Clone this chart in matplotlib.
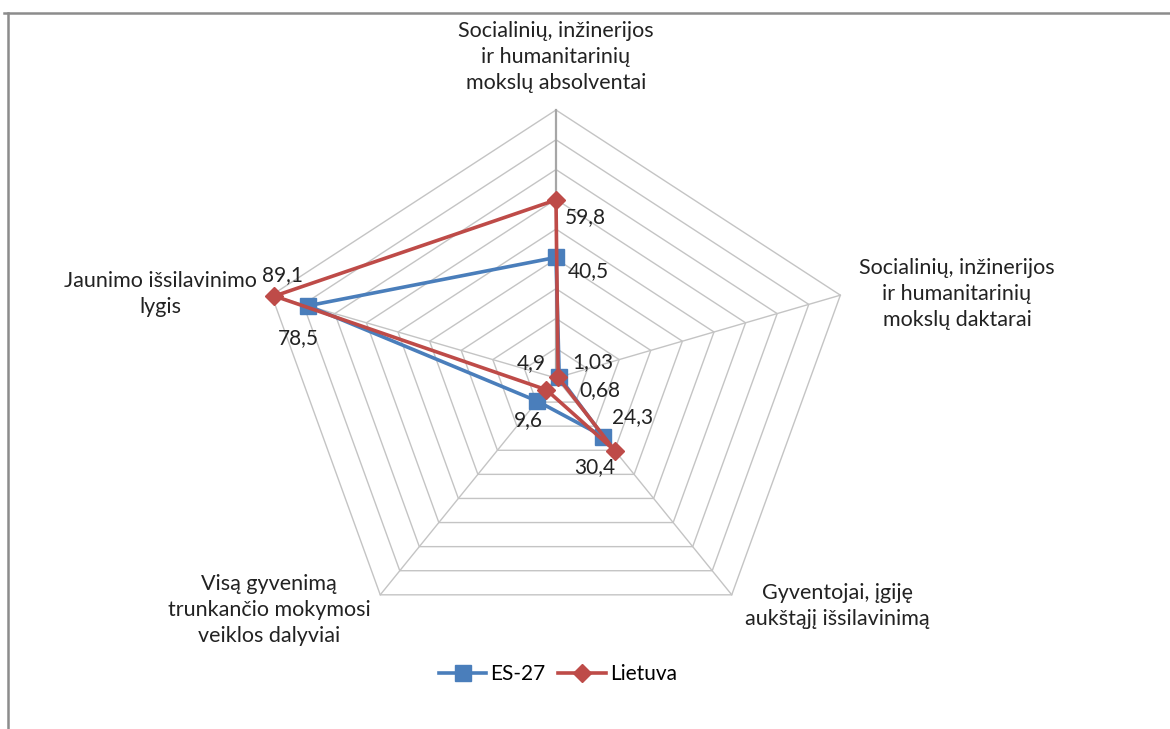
import numpy as np
import matplotlib
matplotlib.use("Agg")
import matplotlib.pyplot as plt
from matplotlib.lines import Line2D

plt.rcParams["font.family"] = ["Lato", "DejaVu Sans"]

categories = [
    "Socialinių, inžinerijos\nir humanitarinių\nmokslų absolventai",
    "Socialinių, inžinerijos\nir humanitarinių\nmokslų daktarai",
    "Gyventojai, įgiję\naukštąjį išsilavinimą",
    "Visą gyvenimą\ntrunkančio mokymosi\nveiklos dalyviai",
    "Jaunimo išsilavinimo\nlygis",
]
es27 = [40.5, 1.03, 24.3, 9.6, 78.5]
lietuva = [59.8, 0.68, 30.4, 4.9, 89.1]
es27_labels = ["40,5", "1,03", "24,3", "9,6", "78,5"]
lietuva_labels = ["59,8", "0,68", "30,4", "4,9", "89,1"]
ring_max = 90
ring_step = 10

BLUE = "#4a7ebb"
RED = "#be4b48"
GRID = "#c4c4c4"

# spokes run clockwise starting at the top
angles = np.deg2rad(90 - 72 * np.arange(len(categories)))


def to_xy(values):
    v = np.asarray(values, dtype=float)
    return v * np.cos(angles), v * np.sin(angles)


W, H, DPI = 1170, 729, 100
fig = plt.figure(figsize=(W / DPI, H / DPI), dpi=DPI)
ax = fig.add_axes([0, 0, 1, 1])
ax.set_axis_off()

# centre sits at (556, 378) px, radius 299 px wide and 268 px tall
cx, cy, rx, ry = 556, 378, 299, 268
ux, uy = rx / ring_max, ry / ring_max
ax.set_xlim(-cx / ux, (W - cx) / ux)
ax.set_ylim(-(H - cy) / uy, cy / uy)

for r in range(ring_step, ring_max + 1, ring_step):
    x, y = to_xy([r] * len(categories))
    ax.plot(np.append(x, x[0]), np.append(y, y[0]), color=GRID, lw=1, zorder=1)
ox, oy = to_xy([ring_max] * len(categories))
for i, (x, y) in enumerate(zip(ox, oy)):
    ax.plot([0, x], [0, y], color="#a6a6a6" if i == 0 else GRID,
            lw=1.6 if i == 0 else 1, zorder=1)

for vals, color, marker, ms, name in [
    (es27, BLUE, "s", 12, "ES-27"),
    (lietuva, RED, "D", 9, "Lietuva"),
]:
    x, y = to_xy(vals)
    ax.plot(np.append(x, x[0]), np.append(y, y[0]), color=color, lw=2.6,
            marker=marker, ms=ms, markevery=range(len(vals)), zorder=3, label=name)

label_kw = dict(textcoords="offset points", fontsize=15, color="#222222",
                ha="center", va="center", zorder=4)
es_offsets = [(23, -10), (24, 11), (21, 14), (-6.5, -14), (-7, -23)]
lt_offsets = [(21, -12), (30, -9), (-15, -11.5), (-11, 19), (6, 15)]
ex, ey = to_xy(es27)
lx, ly = to_xy(lietuva)
for i in range(len(categories)):
    ax.annotate(es27_labels[i], (ex[i], ey[i]), xytext=es_offsets[i], **label_kw)
    ax.annotate(lietuva_labels[i], (lx[i], ly[i]), xytext=lt_offsets[i], **label_kw)

cat_offsets = [(0, 38), (84, 1), (76, -8), (-80, -11), (-80, 1)]
for i, text in enumerate(categories):
    ax.annotate(text, (ox[i], oy[i]), xytext=cat_offsets[i], textcoords="offset points",
                ha="center", va="center", multialignment="center", fontsize=15.5,
                color="#222222", linespacing=1.38)

# chart area frame (top and left edges)
fig.add_artist(Line2D([4 / W, 1], [1 - 13 / H, 1 - 13 / H], color="#8c8c8c", lw=1.8))
fig.add_artist(Line2D([8 / W, 8 / W], [0, 1 - 13 / H], color="#8c8c8c", lw=1.8))

fig.legend(loc="center", bbox_to_anchor=(558 / W, 1 - 674 / H), ncol=2, frameon=False,
           fontsize=15, handlelength=2.3, columnspacing=0.6, handletextpad=0.2)

fig.savefig("out.png", dpi=DPI, facecolor="white")
